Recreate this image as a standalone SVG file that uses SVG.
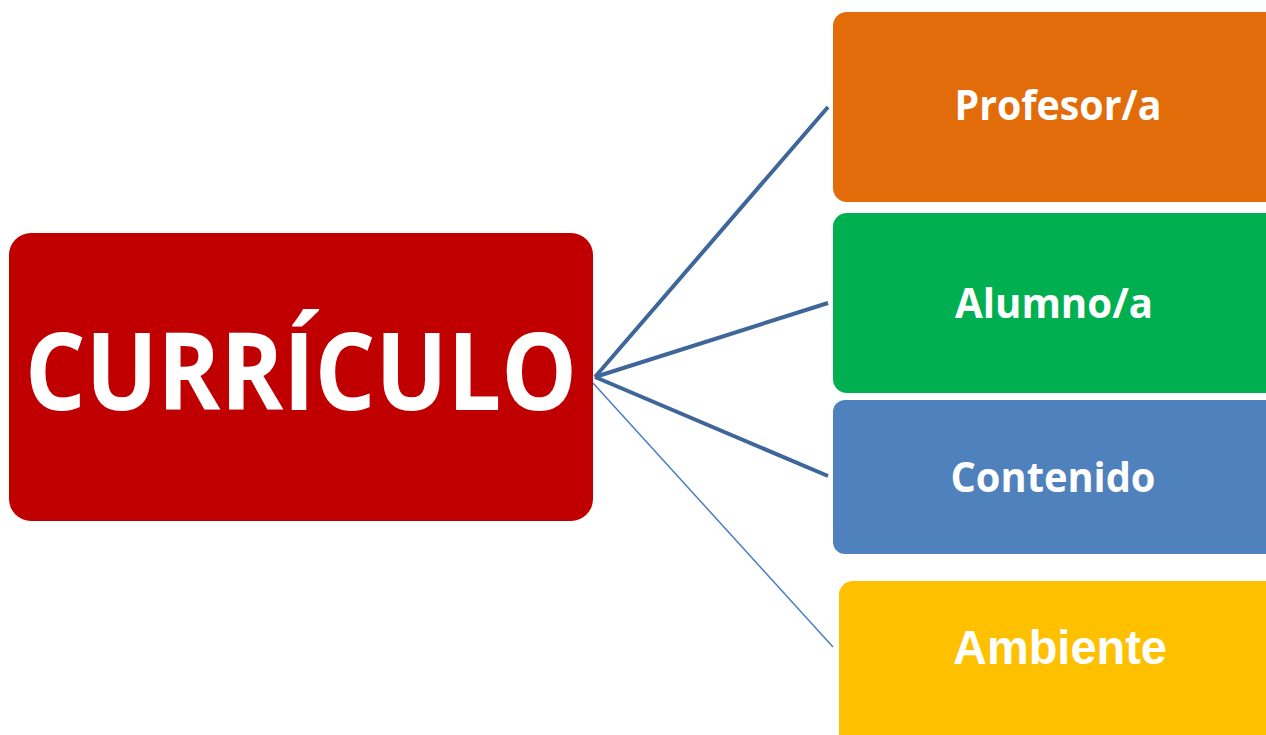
<svg xmlns="http://www.w3.org/2000/svg" width="1266" height="735" viewBox="0 0 1266 735">
<style>
.lbl{font-family:"Open Sans","Noto Sans",sans-serif;font-weight:bold;fill:#fff}
.arial{font-family:"Liberation Sans",Arial,sans-serif;font-weight:bold;fill:#fff}
.thick{stroke:#3F6699;stroke-width:4;fill:none;stroke-linecap:butt}
.thin{stroke:#4A7EC2;stroke-width:1.5;fill:none}
</style>
<rect width="1266" height="735" fill="#fff"/>
<g id="connectors">
<line class="thick" x1="595" y1="377" x2="828" y2="107"/>
<line class="thick" x1="595" y1="377" x2="828" y2="303"/>
<line class="thick" x1="595" y1="377" x2="828" y2="476"/>
<line class="thin" x1="593" y1="383" x2="833" y2="647"/>
</g>
<g id="curriculo">
<rect x="9" y="233" width="584" height="288" rx="22" fill="#C00000"/>
<text class="lbl" x="301" y="410" font-size="108" text-anchor="middle" textLength="552" lengthAdjust="spacingAndGlyphs">CURRÍCULO</text>
</g>
<g id="profesor">
<rect x="833" y="12" width="460" height="190" rx="14" fill="#E36C0A"/>
<text class="lbl" x="1058" y="120" font-size="42" text-anchor="middle" textLength="207" lengthAdjust="spacingAndGlyphs">Profesor/a</text>
</g>
<g id="alumno">
<rect x="833" y="213" width="460" height="180" rx="14" fill="#00B050"/>
<text class="lbl" x="1054" y="318" font-size="42" text-anchor="middle" textLength="198" lengthAdjust="spacingAndGlyphs">Alumno/a</text>
</g>
<g id="contenido">
<rect x="833" y="400" width="460" height="154" rx="12" fill="#4F81BD"/>
<text class="lbl" x="1053" y="492" font-size="42" text-anchor="middle" textLength="205" lengthAdjust="spacingAndGlyphs">Contenido</text>
</g>
<g id="ambiente">
<rect x="839" y="581" width="460" height="180" rx="14" fill="#FFC000"/>
<text class="arial" x="1060" y="664" font-size="48" text-anchor="middle" textLength="214" lengthAdjust="spacingAndGlyphs">Ambiente</text>
</g>
</svg>
